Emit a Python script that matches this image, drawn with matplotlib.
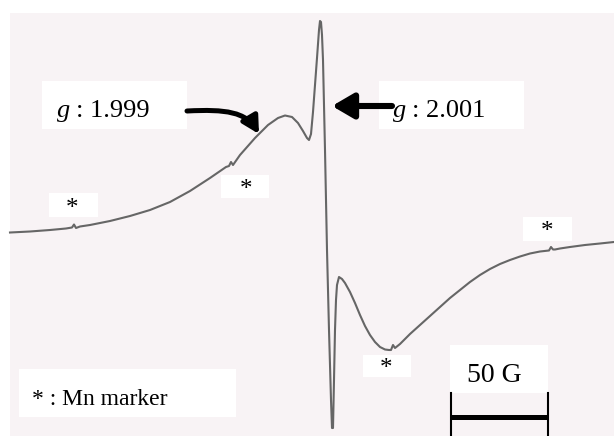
import matplotlib.pyplot as plt
from matplotlib.patches import Rectangle, FancyArrowPatch, ArrowStyle
from matplotlib.path import Path

# EPR trace (horizontal = field, vertical = signal, in picture units)
trace_x = [10, 30, 50, 66, 72, 74, 76, 80, 90, 110, 130, 150, 170, 190, 210, 226,
           229, 231, 233, 240, 255, 268, 278, 285, 292, 298, 303, 307, 309,
           311, 313, 315, 317, 319, 320, 321, 322, 323, 325, 327, 329, 331, 332,
           333, 334, 335, 336, 337, 339, 342, 345, 350, 355, 360, 365, 370, 375,
           380, 385, 389, 391, 393, 395, 400, 410, 420, 430, 440, 450, 460, 470,
           480, 490, 500, 510, 520, 530, 540, 549, 551, 553, 555, 560, 570, 585,
           600, 614]
trace_y = [232.5, 231.5, 230, 228.5, 227.5, 224.5, 228, 226.5, 225, 221, 216, 210, 202, 191, 178, 167,
           166, 162, 165, 155, 138, 125, 118, 115.5, 117, 123, 131, 138, 140,
           134, 112, 85, 58, 30, 21, 22, 35, 60, 150, 250, 330, 400, 428,
           428, 380, 330, 300, 285, 277, 279, 283, 292, 303, 315, 326, 335, 342,
           347, 349.5, 350, 350, 345, 348, 344, 334, 325, 316, 307, 298, 290, 282,
           275, 269, 264, 260, 256.5, 253.5, 251.5, 250.5, 247, 249.5, 249.5, 248.5, 247, 245,
           243.5, 242]

# Mn marker asterisks (label positions)
star_x = [72, 246, 386, 547]
star_y = [209, 190, 369, 232]

g_labels = ["1.999", "2.001"]
scale_label = "50 G"
legend_label = "* : Mn marker"

W, H = 614, 436
fig = plt.figure(figsize=(W / 100, H / 100), dpi=100)
ax = fig.add_axes([0, 0, 1, 1])
ax.set_xlim(0, W)
ax.set_ylim(H, 0)
ax.axis("off")

# scanned paper
ax.add_patch(Rectangle((10, 13), W - 10, H - 13, facecolor="#f8f3f5", edgecolor="none", zorder=0))

ax.plot(trace_x, trace_y, color="#666666", lw=1.5, solid_joinstyle="round", zorder=2)


def white_box(x0, y0, x1, y1):
    ax.add_patch(Rectangle((x0, y0), x1 - x0, y1 - y0, facecolor="white", edgecolor="none", zorder=1))


serif = "Liberation Serif"

# g labels
white_box(42, 81, 187, 129)
white_box(379, 81, 524, 129)
for gx, lab in zip([57, 393], g_labels):
    ax.text(gx, 117, "g", fontsize=19, family=serif, style="italic", va="baseline", zorder=3)
    ax.text(gx + 19, 117, ": " + lab, fontsize=19, family=serif, va="baseline", zorder=3)

# arrows
bent = Path([(187, 111), (226, 109), (246, 112), (259, 134)],
            [Path.MOVETO, Path.CURVE4, Path.CURVE4, Path.CURVE4])
ax.add_patch(FancyArrowPatch(path=bent,
                             arrowstyle=ArrowStyle("-|>", head_length=0.5, head_width=0.27),
                             mutation_scale=20, lw=3.6, color="black", zorder=3))
ax.add_patch(FancyArrowPatch((392, 106), (332, 106),
                             arrowstyle=ArrowStyle("-|>", head_length=0.65, head_width=0.38),
                             mutation_scale=20, lw=4.4, color="black", shrinkA=0, shrinkB=0, zorder=3))

# asterisk labels
star_boxes = [(49, 193, 98, 217), (221, 175, 269, 198), (363, 355, 411, 377), (523, 217, 572, 241)]
for (bx0, by0, bx1, by1), sx, sy in zip(star_boxes, star_x, star_y):
    white_box(bx0, by0, bx1, by1)
    ax.text(sx, sy, "*", fontsize=18, family=serif, ha="center", va="center", zorder=3)

# legend
white_box(19, 369, 236, 417)
ax.text(32, 405, legend_label, fontsize=17, family=serif, va="baseline", zorder=3)

# scale bar
white_box(450, 345, 548, 393)
ax.text(467, 382, scale_label, fontsize=20, family=serif, va="baseline", zorder=3)
ax.plot([451, 451], [393, 436], color="black", lw=1.5, zorder=3)
ax.plot([548, 548], [393, 436], color="black", lw=1.5, zorder=3)
ax.plot([451, 548], [417, 417], color="black", lw=3.6, solid_capstyle="butt", zorder=3)

fig.savefig("out.png", dpi=100)
